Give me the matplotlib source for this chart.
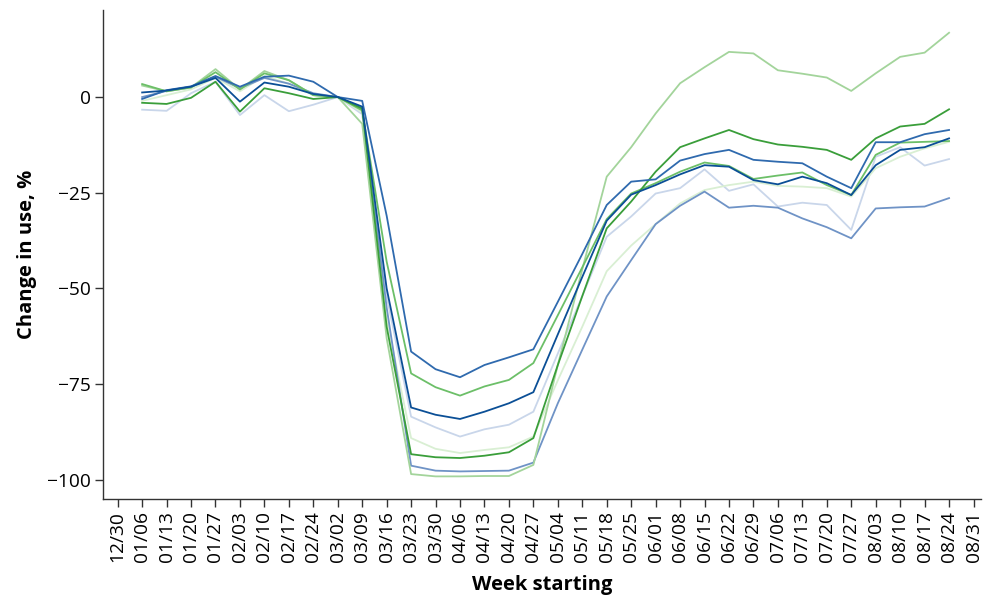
import matplotlib
matplotlib.use("Agg")
import matplotlib.pyplot as plt

plt.rcParams['font.family'] = ['Open Sans', 'DejaVu Sans']

week_labels = ["12/30", "01/06", "01/13", "01/20", "01/27", "02/03", "02/10", "02/17", "02/24",
               "03/02", "03/09", "03/16", "03/23", "03/30", "04/06", "04/13", "04/20", "04/27",
               "05/04", "05/11", "05/18", "05/25", "06/01", "06/08", "06/15", "06/22", "06/29",
               "07/06", "07/13", "07/20", "07/27", "08/03", "08/10", "08/17", "08/24", "08/31"]
data_weeks = week_labels[1:35]

series_a = [-0.5, 1.8, 2.8, 5.5, 2.7, 5.3, 5.6, 4.0, 0, -1.0, -31, -66.5, -71.1, -73.2, -70.0, -68.0, -65.9,
            -53.5, -41, -28.2, -22.1, -21.5, -16.6, -14.9, -13.8, -16.4, -16.9, -17.3, -20.8, -23.8,
            -11.8, -11.8, -9.7, -8.6]
series_b = [3.4, 1.5, 2.5, 6.5, 2.0, 6.2, 4.4, 0.5, 0, -3.5, -43, -72.2, -75.8, -78, -75.6, -73.9, -69.5,
            -57, -44.5, -31.9, -25.2, -22.5, -19.5, -17.1, -18, -21.4, -20.5, -19.7, -23, -25.6,
            -15.1, -11.9, -11.7, -11.5]
series_c = [1.2, 1.7, 2.7, 5.0, -1.2, 3.8, 2.7, 0.8, 0, -2.5, -50, -81.1, -83, -84.1, -82.2, -80, -77.1,
            -62, -47, -32.3, -25.5, -23, -20.2, -17.8, -18.2, -21.7, -22.8, -20.8, -22.5, -25.6,
            -17.8, -13.8, -13.1, -10.8]
series_d = [-3.3, -3.6, 1.0, 4.0, -4.7, 0.5, -3.7, -2.0, 0, -4.5, -52, -83.5, -86.3, -88.7, -86.8, -85.6, -82.2,
            -67, -52, -36.5, -31.2, -25.2, -23.8, -18.9, -24.5, -22.8, -28.6, -27.6, -28.2, -34.7,
            -15.6, -13.1, -17.9, -16.2]
series_e = [-1.0, 0.5, 2.0, 5.0, 1.5, 5.5, 3.5, 0.5, 0, -4.0, -58, -89.1, -91.9, -93, -92.2, -91.5, -88.7,
            -74, -60, -45.5, -38.8, -33.2, -27.8, -24.3, -23, -22.1, -23.2, -23.4, -23.8, -26,
            -18.6, -15.6, -13.4, -11.7]
series_f = [-1.5, -1.8, -0.2, 4.0, -3.8, 2.3, 1.0, -0.5, 0, -3.0, -60, -93.3, -94.1, -94.3, -93.7, -92.8, -89.1,
            -70, -52, -34.3, -27.3, -19.5, -13.1, -10.8, -8.6, -11, -12.4, -13, -13.8, -16.4,
            -10.8, -7.7, -7, -3.2]
series_g = [0.0, 1.6, 2.7, 5.3, 2.3, 5.0, 3.5, 1.0, 0, -3.0, -55, -96.3, -97.6, -97.8, -97.7, -97.6, -95.5,
            -80, -66, -52.1, -42.6, -33.2, -28.4, -24.7, -28.9, -28.4, -28.9, -31.7, -34, -36.9,
            -29.1, -28.8, -28.6, -26.4]
series_h = [3.0, 1.5, 2.5, 7.3, 2.0, 6.8, 4.4, 0.5, 0, -7.0, -63, -98.5, -99.1, -99.1, -99.0, -99.0, -96.1,
            -70, -45, -20.8, -13.1, -4.3, 3.6, 7.8, 11.8, 11.4, 7.0, 6.1, 5.1, 1.6,
            6.2, 10.5, 11.6, 16.8]

series_list = [
    (series_d, "#c9d6ea"),
    (series_e, "#d9efd3"),
    (series_g, "#6f93c6"),
    (series_h, "#a3d49b"),
    (series_b, "#6cbf68"),
    (series_f, "#3a9e3a"),
    (series_a, "#2f6aae"),
    (series_c, "#0b4f96"),
]

fig = plt.figure(figsize=(9.83, 5.98), dpi=100)
ax = fig.add_axes([0.1048, 0.1656, 0.893, 0.8174])

x_all = list(range(len(week_labels)))
x_data = x_all[1:35]
for vals, col in series_list:
    ax.plot(x_data, vals, color=col, lw=1.3)

ax.set_xticks(x_all)
ax.set_xticklabels(week_labels, rotation=90, fontsize=13.8)
ax.set_yticks([0, -25, -50, -75, -100])
ax.set_yticklabels(["0", "\u221225", "\u221250", "\u221275", "\u2212100"], fontsize=13.8)
ax.set_xlim(-0.6, 35.3)
ax.set_ylim(-105, 22.7)
for s in ["top", "right"]:
    ax.spines[s].set_visible(False)
for s in ["left", "bottom"]:
    ax.spines[s].set_color("#333333")
    ax.spines[s].set_linewidth(1.0)
ax.tick_params(axis="both", length=6, width=1, color="#333333", pad=3)
ax.set_xlabel("Week starting", fontsize=14.5, fontweight="bold", labelpad=9)
ax.set_ylabel("Change in use, %", fontsize=14.5, fontweight="bold", labelpad=7)

fig.savefig("out.png", dpi=100)
